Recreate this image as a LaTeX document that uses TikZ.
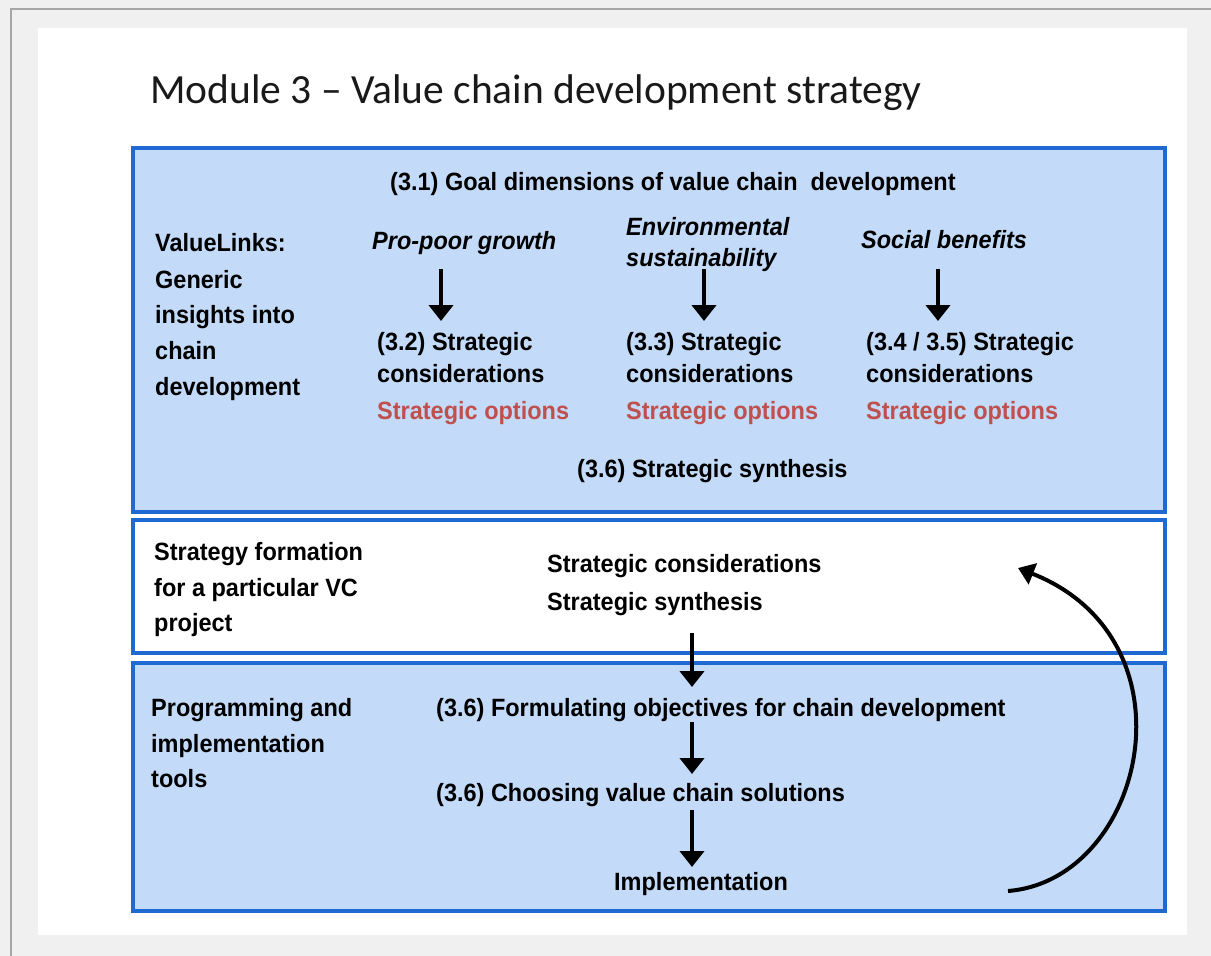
\documentclass[tikz,border=0pt]{standalone}
\usepackage{fontspec}
\setmainfont{Liberation Sans}[FakeStretch=0.94]
\newfontfamily\titlefont{Carlito}
\usetikzlibrary{arrows.meta}
\definecolor{pagegray}{HTML}{F0F0F0}
\definecolor{edgegray}{HTML}{A6A6A6}
\definecolor{boxblue}{HTML}{1F6AD2}
\definecolor{boxfill}{HTML}{C3DBF9}
\definecolor{optred}{HTML}{C0504D}
\tikzset{
  txt/.style={anchor=base west, inner sep=0pt, text=black, font=\fontsize{25}{30}\selectfont\bfseries},
  itxt/.style={anchor=base west, inner sep=0pt, text=black, font=\fontsize{25}{30}\selectfont\bfseries\itshape},
  rtxt/.style={txt, text=optred},
  panel/.style={draw=boxblue, line width=3.5pt},
  downarrow/.style={line width=4pt, -{Triangle[width=24pt,length=16pt]}},
  looparrow/.style={line width=4pt, -{Triangle[width=22pt,length=16pt]}},
}
\begin{document}
\begin{tikzpicture}[x=1pt,y=-1pt]
\useasboundingbox (0,0) rectangle (1211,956);
% page background
\fill[pagegray] (0,0) rectangle (1211,956);
\draw[edgegray, line width=1.5pt] (10,9) -- (1211,9);
\draw[edgegray, line width=1.5pt] (11,9) -- (11,956);
\fill[white] (38,28) rectangle (1187,935);
% title
\node[anchor=base west, inner sep=0pt, text=black!90, font=\titlefont\fontsize{41.5}{50}\selectfont] (title) at (150,103) {Module 3 – Value chain development strategy};
% panels
\draw[panel, fill=boxfill] (133,148) rectangle (1165,512);
\draw[panel, fill=white] (133,520) rectangle (1165,653);
\draw[panel, fill=boxfill] (133,663) rectangle (1165,911);
% top panel
\node[txt] (goal) at (390,190) {(3.1) Goal dimensions of value chain~ development};
\node[txt] (vl1) at (155,251) {ValueLinks:};
\node[txt] (vl2) at (155,288) {Generic};
\node[txt] (vl3) at (155,323) {insights into};
\node[txt] (vl4) at (155,359) {chain};
\node[txt] (vl5) at (155,395) {development};
\node[itxt] (ppg) at (372,249) {Pro-poor growth};
\node[itxt] (env1) at (626,235) {Environmental};
\node[itxt] (env2) at (626,266) {sustainability};
\node[itxt] (soc) at (861,248) {Social benefits};
\node[txt] (c1a) at (377,350) {(3.2) Strategic};
\node[txt] (c1b) at (377,382) {considerations};
\node[rtxt] (o1) at (377,419) {Strategic options};
\node[txt] (c2a) at (626,350) {(3.3) Strategic};
\node[txt] (c2b) at (626,382) {considerations};
\node[rtxt] (o2) at (626,419) {Strategic options};
\node[txt] (c3a) at (866,350) {(3.4 / 3.5) Strategic};
\node[txt] (c3b) at (866,382) {considerations};
\node[rtxt] (o3) at (866,419) {Strategic options};
\node[txt] (syn) at (577,477) {(3.6) Strategic synthesis};
\coordinate (a1s) at (441,269); \coordinate (a1e) at (441,321);
\coordinate (a2s) at (704,269); \coordinate (a2e) at (704,321);
\coordinate (a3s) at (938,269); \coordinate (a3e) at (938,321);
\draw[downarrow] (a1s) -- (a1e);
\draw[downarrow] (a2s) -- (a2e);
\draw[downarrow] (a3s) -- (a3e);
% middle panel
\node[txt] (sf1) at (154,560) {Strategy formation};
\node[txt] (sf2) at (154,596) {for a particular VC};
\node[txt] (sf3) at (154,631) {project};
\node[txt] (sc) at (547,572) {Strategic considerations};
\node[txt] (ss) at (547,610) {Strategic synthesis};
% bottom panel
\node[txt] (pi1) at (151,716) {Programming and};
\node[txt] (pi2) at (151,752) {implementation};
\node[txt] (pi3) at (151,787) {tools};
\node[txt] (form) at (436,716) {(3.6) Formulating objectives for chain development};
\node[txt] (choo) at (436,801) {(3.6) Choosing value chain solutions};
\node[txt] (impl) at (614,890) {Implementation};
\coordinate (b1s) at (692,633); \coordinate (b1e) at (692,687);
\coordinate (b2s) at (692,722); \coordinate (b2e) at (692,774);
\coordinate (b3s) at (692,810); \coordinate (b3e) at (692,867);
\draw[downarrow] (b1s) -- (b1e);
\draw[downarrow] (b2s) -- (b2e);
\draw[downarrow] (b3s) -- (b3e);
% feedback loop
\coordinate (ls) at (1008,891);
\coordinate (le) at (1018,568);
\draw[looparrow] (ls) .. controls (1145,880) and (1200,640) .. (le);
\end{tikzpicture}
\end{document}
